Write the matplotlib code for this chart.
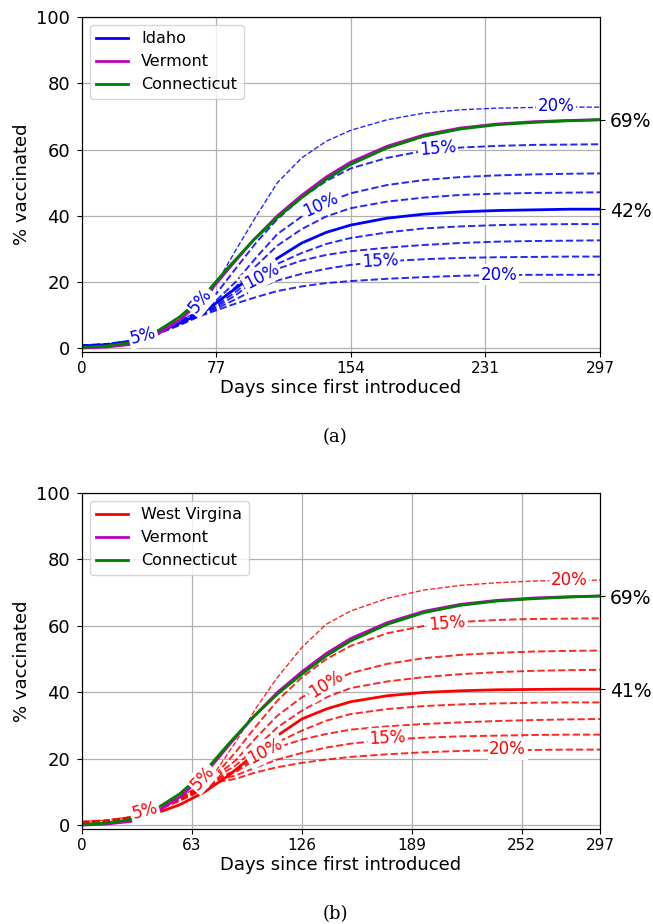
import matplotlib
matplotlib.use('Agg')
import matplotlib.pyplot as plt

# day grids
days = [0, 14, 28, 42, 56, 70, 84, 98, 112, 126, 140, 154, 175, 196, 217, 238, 259, 280, 297]
sdays = [0, 14, 28, 42, 56, 67, 77, 88, 100, 112, 126, 140, 154, 175, 196, 217, 238, 259, 280, 297]

# reference states
vermont = [0.1, 0.4, 1.2, 3.8, 8.5, 15.2, 24.0, 32.5, 40.0, 46.2, 51.7, 56.2, 61.0, 64.4, 66.5, 67.7, 68.4, 68.8, 69.0]
connecticut = [0.3, 0.7, 1.8, 4.8, 9.5, 16.0, 24.5, 32.5, 39.5, 45.5, 51.0, 55.5, 60.5, 64.0, 66.2, 67.5, 68.2, 68.7, 69.0]

# panel (a): Idaho
idaho = [0.6, 1.0, 1.9, 4.5, 7.6, 11.0, 16.5, 22.0, 27.2, 31.8, 35.0, 37.2, 39.3, 40.5, 41.2, 41.6, 41.8, 42.0, 42.0]
idaho_up20 = [1.0, 1.4, 2.4, 5.2, 8.6, 11.0, 19.5, 29.5, 40.0, 50.0, 57.5, 62.5, 65.8, 69.0, 71.0, 72.0, 72.5, 72.7, 72.8, 72.8]
idaho_up15 = [0.9, 1.3, 2.3, 5.0, 8.4, 10.8, 16.5, 24.0, 32.0, 39.0, 45.5, 50.5, 54.3, 57.5, 59.6, 60.6, 61.1, 61.4, 61.5, 61.6]
idaho_up10 = [0.9, 1.2, 2.2, 4.9, 8.2, 10.6, 14.5, 20.0, 27.5, 34.5, 39.8, 44.0, 46.8, 49.3, 50.8, 51.7, 52.2, 52.5, 52.7, 52.8]
idaho_up5 = [0.8, 1.1, 2.1, 4.8, 8.0, 10.5, 13.5, 18.5, 25.0, 31.0, 36.0, 39.8, 42.3, 44.3, 45.5, 46.3, 46.7, 46.9, 47.0, 47.1]
idaho_dn5 = [0.7, 1.0, 1.9, 4.4, 7.6, 10.3, 13.0, 17.0, 22.0, 25.5, 28.8, 31.5, 33.3, 35.0, 36.2, 36.8, 37.2, 37.4, 37.5, 37.5]
idaho_dn10 = [0.6, 0.9, 1.8, 4.3, 7.4, 10.0, 12.5, 16.0, 20.8, 24.0, 26.5, 28.2, 29.3, 30.4, 31.2, 31.8, 32.2, 32.4, 32.5, 32.6]
idaho_dn15 = [0.6, 0.9, 1.7, 4.2, 7.2, 9.8, 12.0, 14.8, 18.0, 20.5, 22.5, 24.0, 25.2, 26.3, 26.9, 27.3, 27.5, 27.6, 27.7, 27.7]
idaho_dn20 = [0.5, 0.8, 1.6, 4.1, 7.0, 9.6, 11.5, 13.5, 15.5, 17.3, 18.7, 19.7, 20.3, 21.0, 21.5, 21.9, 22.1, 22.2, 22.2, 22.2]

# panel (b): West Virginia
wv = [0.3, 0.6, 1.5, 3.6, 6.2, 10.0, 15.0, 21.0, 27.0, 32.0, 35.0, 37.2, 39.0, 40.0, 40.5, 40.8, 40.9, 41.0, 41.0]
wv_up20 = [1.2, 1.6, 2.6, 5.2, 8.8, 11.5, 16.5, 25.0, 35.5, 44.5, 53.5, 60.5, 64.5, 68.3, 70.8, 72.2, 73.0, 73.5, 73.7, 73.8]
wv_up15 = [1.1, 1.5, 2.5, 5.0, 8.6, 11.3, 15.5, 22.0, 30.0, 37.5, 44.5, 50.0, 54.0, 57.8, 60.0, 61.2, 61.8, 62.1, 62.2, 62.3]
wv_up10 = [1.0, 1.4, 2.4, 4.9, 8.4, 11.1, 15.0, 19.5, 26.5, 33.0, 38.5, 42.6, 45.8, 48.6, 50.3, 51.3, 51.9, 52.3, 52.5, 52.6]
wv_up5 = [1.0, 1.3, 2.3, 4.8, 8.2, 10.9, 14.6, 18.0, 23.5, 29.5, 34.5, 38.5, 41.3, 43.3, 44.6, 45.5, 46.1, 46.5, 46.7, 46.8]
wv_dn5 = [0.9, 1.2, 2.2, 4.6, 8.0, 10.7, 14.2, 16.5, 20.5, 25.0, 28.5, 31.5, 33.5, 35.0, 35.9, 36.4, 36.7, 36.9, 37.0, 37.0]
wv_dn10 = [0.9, 1.1, 2.1, 4.5, 7.8, 10.5, 13.8, 16.0, 20.0, 23.5, 25.8, 27.5, 28.8, 29.8, 30.5, 31.0, 31.4, 31.7, 31.9, 32.0]
wv_dn15 = [0.8, 1.0, 2.0, 4.4, 7.6, 10.3, 13.4, 15.0, 17.5, 19.8, 21.8, 23.4, 24.6, 25.8, 26.4, 26.8, 27.0, 27.2, 27.3, 27.3]
wv_dn20 = [0.8, 1.0, 1.9, 4.3, 7.4, 10.1, 13.0, 14.0, 16.0, 17.5, 18.8, 19.8, 20.6, 21.4, 22.0, 22.4, 22.6, 22.7, 22.8, 22.8]

# inline labels: (day, value, text, angle)
labels_a = [(35, 3.8, '5%', 15), (68, 14.3, '5%', 50), (103, 21.8, '10%', 28),
            (137, 43.3, '10%', 25), (204, 60.3, '15%', 5), (272, 73.0, '20%', 0),
            (171, 26.3, '15%', 3), (239, 22.2, '20%', 0)]
labels_b = [(36, 4.3, '5%', 15), (69, 14.3, '5%', 48), (105, 22.3, '10%', 28),
            (140, 42.6, '10%', 32), (209, 60.8, '15%', 5), (279, 73.8, '20%', 0),
            (175, 26.3, '15%', 3), (244, 23.0, '20%', 0)]


def draw_panel(ax, name, main, color, scenarios, xticks, labels, final):
    for i, s in enumerate(scenarios):
        lw = 1.0 if i == 0 else 1.4
        ax.plot(sdays, s, '--', color=color, lw=lw, alpha=0.85, zorder=2)
    ax.plot(days, main, color=color, lw=2, label=name, zorder=3)
    ax.plot(days, vermont, color='m', lw=2, label='Vermont', zorder=3)
    ax.plot(days, connecticut, color='g', lw=2, label='Connecticut', zorder=3)

    for x, y, t, rot in labels:
        ax.text(x, y, t, color=color, fontsize=12, rotation=rot, ha='center', va='center',
                rotation_mode='anchor', zorder=5,
                bbox=dict(boxstyle='square,pad=0.1', fc='white', ec='none'))

    ax.set_xlim(0, 297)
    ax.set_ylim(-1, 100)
    ax.set_xticks(xticks)
    ax.set_yticks([0, 20, 40, 60, 80, 100])
    ax.tick_params(axis='x', labelsize=11)
    ax.tick_params(axis='y', labelsize=13, pad=5)
    ax.grid(True, color='#b0b0b0', lw=0.9)
    ax.set_xlabel('Days since first introduced', fontsize=13, labelpad=2)
    ax.set_ylabel('% vaccinated', fontsize=13)
    ax.legend(loc='upper left', fontsize=11.5)

    ax2 = ax.twinx()
    ax2.set_ylim(-1, 100)
    ax2.set_yticks([final, 69], labels=['%d%%' % final, '69%'])
    ax2.tick_params(axis='y', labelsize=13.5)


fig = plt.figure(figsize=(6.53, 9.24), dpi=100)
ax_a = fig.add_axes([0.1256, 0.6194, 0.7933, 0.3622])
ax_b = fig.add_axes([0.1256, 0.1031, 0.7933, 0.3634])

draw_panel(ax_a, 'Idaho', idaho, 'b',
           [idaho_up20, idaho_up15, idaho_up10, idaho_up5, idaho_dn5, idaho_dn10, idaho_dn15, idaho_dn20],
           [0, 77, 154, 231, 297], labels_a, 42)
draw_panel(ax_b, 'West Virgina', wv, 'r',
           [wv_up20, wv_up15, wv_up10, wv_up5, wv_dn5, wv_dn10, wv_dn15, wv_dn20],
           [0, 63, 126, 189, 252, 297], labels_b, 41)

fig.text(0.513, 0.527, '(a)', family='DejaVu Serif', fontsize=13, ha='center', va='center')
fig.text(0.513, 0.011, '(b)', family='DejaVu Serif', fontsize=13, ha='center', va='center')

fig.savefig('out.png', dpi=100)
